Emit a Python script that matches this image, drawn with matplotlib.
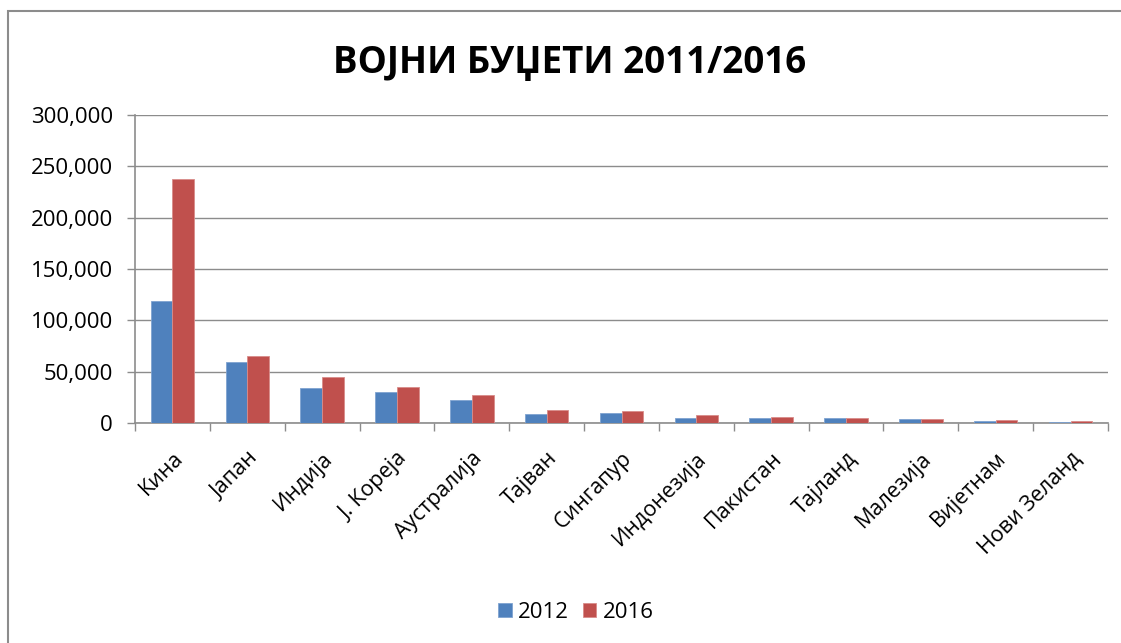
import matplotlib.pyplot as plt
import numpy as np
from matplotlib.patches import Rectangle
from matplotlib.ticker import FuncFormatter
from matplotlib.transforms import ScaledTranslation

plt.rcParams['font.family'] = ['Open Sans', 'DejaVu Sans']

# podaci (procjena iz slike)
zemlje = ['Кина', 'Јапан', 'Индија', 'J. Кореја', 'Аустралија', 'Тајван',
          'Сингапур', 'Индонезија', 'Пакистан', 'Тајланд', 'Малезија',
          'Вијетнам', 'Нови Зеланд']
budzet_2012 = [119000, 59800, 34100, 30600, 22800, 8500, 9800,
               4900, 4900, 4900, 3600, 1500, 1400]
budzet_2016 = [237500, 65300, 44500, 35100, 27000, 13000, 11900,
               8200, 5900, 5000, 3600, 2500, 1500]
godine = ['2012', '2016']

plava = '#4F81BD'
crvena = '#C0504D'
siva = '#8C8C8C'

fig = plt.figure(figsize=(11.21, 6.43), dpi=100)
ax = fig.add_axes([135 / 1121, 1 - 423 / 643, 973 / 1121, 308 / 643])

x = np.arange(len(zemlje))
w = 0.29
ax.bar(x - w / 2, budzet_2012, w, color=plava, edgecolor='#7FA3D0',
       linewidth=0.6, label=godine[0], zorder=3)
ax.bar(x + w / 2, budzet_2016, w, color=crvena, edgecolor='#D98C8A',
       linewidth=0.6, label=godine[1], zorder=3)

ax.set_xlim(-0.5, len(zemlje) - 0.5)
ax.set_ylim(0, 300000)
ax.set_yticks(np.arange(0, 300001, 50000))
ax.yaxis.set_major_formatter(FuncFormatter(lambda v, p: f'{int(v):,}'))
ax.grid(True, axis='y', color=siva, linewidth=1, zorder=0)

ax.set_xticks(x)
ax.set_xticklabels(zemlje, rotation=45, ha='right', va='top',
                   rotation_mode='anchor', fontsize=15.5)
pomak = ScaledTranslation(-5 / 72, -2 / 72, fig.dpi_scale_trans)
for lbl in ax.get_xticklabels():
    lbl.set_transform(lbl.get_transform() + pomak)
ax.set_xticks(np.arange(-0.5, len(zemlje)), minor=True)
ax.tick_params(axis='x', which='major', length=0, pad=18)
ax.tick_params(axis='x', which='minor', length=6, color=siva, width=1)
ax.tick_params(axis='y', length=6, color=siva, width=1, labelsize=16,
               pad=10)

for s in ['top', 'right']:
    ax.spines[s].set_visible(False)
for s in ['left', 'bottom']:
    ax.spines[s].set_color(siva)
    ax.spines[s].set_linewidth(1.2)

fig.text(570 / 1121, 1 - 63 / 643, 'ВОЈНИ БУЏЕТИ 2011/2016', ha='center',
         va='center', fontsize=26.5, fontweight='bold')

fig.legend(loc='center', bbox_to_anchor=(576 / 1121, 1 - 612 / 643),
           ncol=2, frameon=False, fontsize=16, handlelength=0.6,
           handleheight=0.6, handletextpad=0.3, columnspacing=0.6)

# okvir grafikona
fig.patches.append(Rectangle((8 / 1121, -0.05), 1.2, 1 - 11 / 643 + 0.05,
                             transform=fig.transFigure, fill=False,
                             edgecolor='#8C8C8C', linewidth=1.5))

fig.savefig('out.png', dpi=100)
